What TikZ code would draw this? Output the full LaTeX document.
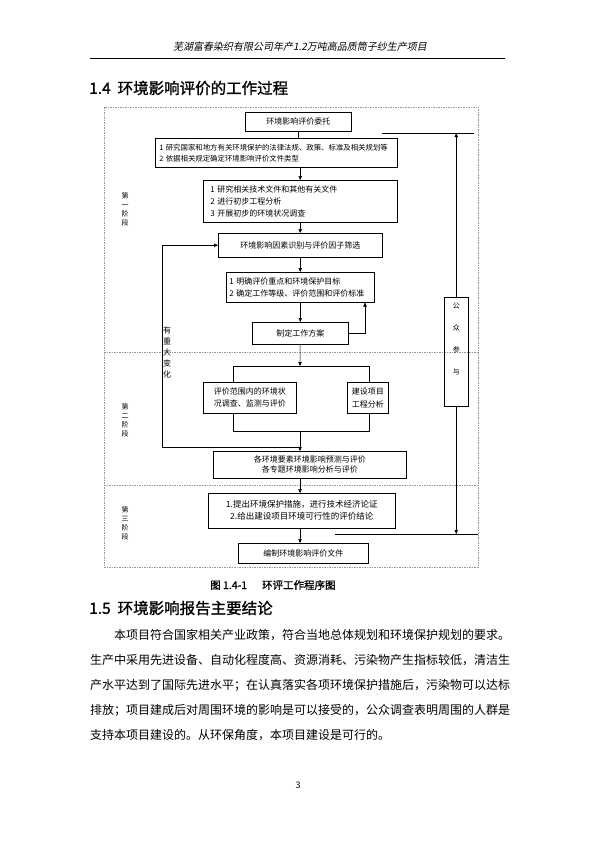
\documentclass[tikz,border=0pt]{standalone}
\usepackage{fontspec}
\setmainfont{Noto Sans CJK SC}
\newfontfamily\hdfont[FakeSlant=0.2]{Noto Sans CJK SC}
\newfontfamily\heifont[FakeBold=1.2]{Noto Sans CJK SC}
\usetikzlibrary{arrows.meta}

\begin{document}
\begin{tikzpicture}[x=1pt,y=1pt,yscale=-1,xscale=1,
  box/.style={draw,line width=0.5pt,anchor=north west,inner sep=0pt,align=center,font=\fontsize{8}{11}\selectfont},
  lbox/.style={box,align=left},
  frame/.style={draw=black!40,line width=0.4pt,dash pattern=on 1.5pt off 1pt},
  arr/.style={-{Triangle[length=4pt,width=3.4pt]},line width=0.5pt},
  ln/.style={line width=0.5pt},
  stage/.style={inner sep=0pt,align=center,font=\fontsize{7}{9}\selectfont}]
\useasboundingbox (0,0) rectangle (595,841);
\fill[white] (0,0) rectangle (595,841);

\node[inner sep=0pt,font=\hdfont\fontsize{10}{12}\selectfont] (hd) at (300,47) {芜湖富春染织有限公司年产1.2万吨高品质筒子纱生产项目};
\draw[line width=0.6pt] (90,58) -- (505,58);
\node[anchor=west,inner sep=0pt,font=\heifont\fontsize{15.5}{18}\selectfont] (h14) at (89,88) {1.4\ \ 环境影响评价的工作过程};

\draw[frame] (104,107) rectangle (478,567);
\draw[frame] (104,352) -- (478,352);
\draw[frame] (104,485) -- (478,485);

\node[box,minimum width=106pt,minimum height=19pt] (b1) at (245,112) {环境影响评价委托};
\node[lbox,text width=234pt,inner xsep=4pt,minimum height=29pt,font=\fontsize{7.4}{11}\selectfont] (b2) at (155,138) {1 研究国家和地方有关环境保护的法律法规、政策、标准及相关规划等\\2 依据相关规定确定环境影响评价文件类型};
\node[lbox,text width=180pt,inner xsep=7pt,minimum height=42pt,font=\fontsize{8}{12}\selectfont] (b3) at (203,180) {1 研究相关技术文件和其他有关文件\\2 进行初步工程分析\\3 开展初步的环境状况调查};
\node[box,minimum width=164pt,minimum height=24pt] (b4) at (218,233) {环境影响因素识别与评价因子筛选};
\node[lbox,text width=142pt,inner xsep=3pt,minimum height=30pt,font=\fontsize{8}{12}\selectfont] (b5) at (226,272) {1 明确评价重点和环境保护目标\\2 确定工作等级、评价范围和评价标准};
\node[box,minimum width=96pt,minimum height=22pt] (b6) at (252,322) {制定工作方案};
\node[box,minimum width=93pt,minimum height=31pt,font=\fontsize{8}{12}\selectfont] (b7) at (203,382) {评价范围内的环境状\\况调查、监测与评价};
\node[box,minimum width=41pt,minimum height=31pt,font=\fontsize{8}{13}\selectfont] (b8) at (347,382) {建设项目\\工程分析};
\node[box,minimum width=193pt,minimum height=27pt,font=\fontsize{8}{10}\selectfont] (b9) at (213,451) {各环境要素环境影响预测与评价\\各专题环境影响分析与评价};
\node[box,minimum width=187pt,minimum height=35pt,font=\fontsize{8.5}{12}\selectfont] (b10) at (208,493) {1.提出环境保护措施，进行技术经济论证\\2.给出建设项目环境可行性的评价结论};
\node[box,minimum width=130pt,minimum height=20pt] (b11) at (238,543) {编制环境影响评价文件};
\node[box,minimum width=24pt,minimum height=109pt,font=\fontsize{7}{22}\selectfont] (pub) at (444,297) {公\\众\\参\\与\\[4pt]};

\node[stage] (s1) at (125,209) {第\\一\\阶\\段};
\node[stage] (s2) at (125,420) {第\\二\\阶\\段};
\node[stage] (s3) at (125,523) {第\\三\\阶\\段};
\node[stage,font=\fontsize{8}{11}\selectfont] (chg) at (167,352) {有\\重\\大\\变\\化};

\coordinate (sp) at (300,366);
\coordinate (spl) at (233,366);
\coordinate (spr) at (369,366);
\coordinate (jm) at (300,431);
\coordinate (jl) at (233,431);
\coordinate (jr) at (369,431);
\coordinate (fb) at (162,447);
\coordinate (tl) at (382,133);
\coordinate (tr) at (474,133);
\coordinate (bl) at (335,534);
\coordinate (br) at (478,534);

\draw[ln] (b1.south) -- (b1.south |- b2.north);
\draw[arr] (b3.north |- b2.south) -- (b3.north);
\draw[arr] (b3.south) -- (b4.north);
\draw[arr] (b4.south) -- (b5.north);
\draw[arr] (b5.south) -- (b6.north);
\draw[arr] (b6.east) -- (b6.east -| 365,0) -- (365,0 |- b5.south);
\draw[arr] (b6.south) -- (sp);
\draw[ln] (spl |- b7.north) -- (spl) -- (spr) -- (spr |- b8.north);
\draw[ln] (jl |- b7.south) -- (jl) -- (jr) -- (jr |- b8.south);
\draw[arr] (jm) -- (jm |- b9.north);
\draw[arr] (jm |- fb) -- (fb) -- (fb |- b4.west) -- (b4.west);
\draw[arr] (b9.south -| jm) -- (b10.north -| jm);
\draw[arr] (b10.south -| jm) -- (b11.north -| jm);
\draw[ln] (tl) -- (tr);
\draw[arr] (pub.north) -- (pub.north |- tl);
\draw[ln] (bl) -- (br);
\draw[arr] (pub.south) -- (pub.south |- bl);

\node[anchor=west,inner sep=0pt,font=\heifont\fontsize{10.5}{12}\selectfont] (cap) at (210,585) {图 1.4-1\hspace{15pt}环评工作程序图};
\node[anchor=west,inner sep=0pt,font=\heifont\fontsize{15.5}{18}\selectfont] (h15) at (89,608) {1.5\ \ 环境影响报告主要结论};
\node[anchor=north west,inner sep=0pt,align=left,font=\fontsize{12}{25}\selectfont] (par) at (90,629) {\hspace{24pt}本项目符合国家相关产业政策，符合当地总体规划和环境保护规划的要求。\\生产中采用先进设备、自动化程度高、资源消耗、污染物产生指标较低，清洁生\\产水平达到了国际先进水平；在认真落实各项环境保护措施后，污染物可以达标\\排放；项目建成后对周围环境的影响是可以接受的，公众调查表明周围的人群是\\支持本项目建设的。从环保角度，本项目建设是可行的。};
\node[inner sep=0pt,font=\fontsize{9}{10}\selectfont] (pg) at (298,785) {3};
\end{tikzpicture}
\end{document}
